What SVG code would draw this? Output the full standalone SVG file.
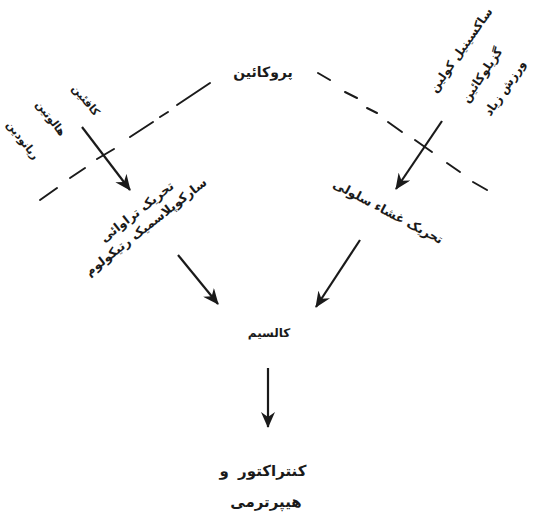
<svg xmlns="http://www.w3.org/2000/svg" width="537" height="513" viewBox="0 0 537 513">
<defs>
<marker id="ah" viewBox="0 0 16 14" refX="15" refY="7" markerWidth="16" markerHeight="14" markerUnits="userSpaceOnUse" orient="auto">
<path d="M0,0 L16,7 L0,14 L5,7 Z" fill="#1a1a1a"/>
</marker>
<style>
.t{font-family:"DejaVu Sans",sans-serif;fill:#1a1a1a;text-anchor:middle;font-weight:bold}
.s{font-size:11px}
.r{font-size:12px}
.c{font-size:12.5px}
.m{font-size:14px}
.b{font-size:15px;word-spacing:4px}
.d{stroke:#1a1a1a;stroke-width:2;fill:none;stroke-linecap:round}
.a{stroke:#1a1a1a;stroke-width:2.2;fill:none;marker-end:url(#ah)}
</style>
</defs>
<rect width="537" height="513" fill="#ffffff"/>
<g id="connectors">
<g id="dash-left">
<line class="d" x1="40" y1="200" x2="57" y2="188"/>
<line class="d" x1="70" y1="178" x2="85" y2="168"/>
<line class="d" x1="97" y1="159" x2="114" y2="149"/>
<line class="d" x1="130" y1="137" x2="153" y2="122"/>
<line class="d" x1="160" y1="117" x2="168" y2="112"/>
<line class="d" x1="177" y1="105" x2="210" y2="83"/>
</g>
<g id="dash-right">
<line class="d" x1="318" y1="73" x2="330" y2="80"/>
<line class="d" x1="345" y1="92" x2="357" y2="98"/>
<line class="d" x1="367" y1="108" x2="377" y2="113"/>
<line class="d" x1="388" y1="122" x2="402" y2="132"/>
<line class="d" x1="415" y1="140" x2="432" y2="152"/>
<line class="d" x1="447" y1="163" x2="460" y2="172"/>
<line class="d" x1="473" y1="182" x2="487" y2="190"/>
</g>
<line class="a" x1="82" y1="127" x2="130" y2="190"/>
<line class="a" x1="442" y1="121" x2="396" y2="189"/>
<line class="a" x1="178" y1="255" x2="218" y2="304"/>
<line class="a" x1="360" y1="240" x2="316" y2="307"/>
<line class="a" x1="268" y1="368" x2="268" y2="427"/>
</g>
<g id="procaine"><text class="t m" x="263" y="77">پروکائین</text></g>
<g id="triggers-left">
<text class="t s" transform="translate(86,100) rotate(50)" y="4">کافئین</text>
<text class="t s" transform="translate(51,118) rotate(52)" y="4">هالوتین</text>
<text class="t s" transform="translate(23,140) rotate(52)" y="4">ریانودین</text>
</g>
<g id="triggers-right">
<text class="t r" transform="translate(461,50) rotate(-55)" y="4">ساکسینیل کولین</text>
<text class="t r" transform="translate(482,75) rotate(-56)" y="4">گزیلوکائین</text>
<text class="t r" transform="translate(505,88) rotate(-56)" y="4">ورزش زیاد</text>
</g>
<g id="sr">
<text class="t c" transform="translate(137,212) rotate(-38)" y="4">تحریک تراوائی</text>
<text class="t c" transform="translate(146,227) rotate(-38)" y="4">سارکوپلاسمیک رتیکولوم</text>
</g>
<g id="membrane">
<text class="t c" transform="translate(388,212) rotate(28)" y="4">تحریک غشاء سلولی</text>
</g>
<g id="calcium"><text class="t r" x="269" y="337">کالسیم</text></g>
<g id="result">
<text class="t b" x="263" y="476">کنتراکتور و</text>
<text class="t b" x="266" y="507">هیپرترمی</text>
</g>
</svg>
